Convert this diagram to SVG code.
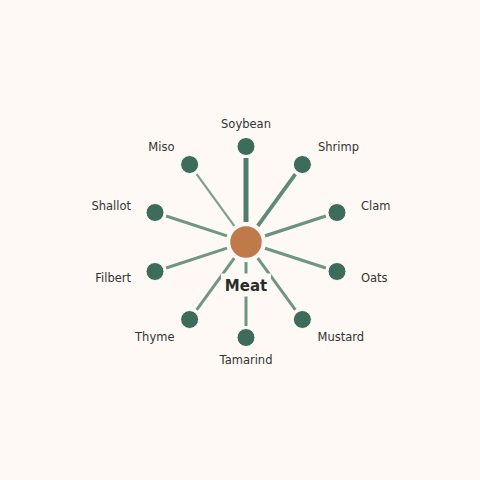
<svg xmlns="http://www.w3.org/2000/svg" width="480" height="480" viewBox="0 0 480 480">
<style>
.bg{fill:#fef9f5}
.sp{stroke:#6f9685;stroke-linecap:butt;fill:none}
.leaf{fill:#3d6b5c;stroke:#fef9f5;stroke-width:1}
.lbl{font-family:"DejaVu Sans",sans-serif;font-size:11.5px;fill:#333333}
.hub{fill:#c07a4a;stroke:#fef9f5;stroke-width:1.5}
.hubl{font-family:"DejaVu Sans",sans-serif;font-size:15px;font-weight:bold;fill:#2b2b2b}
</style>
<rect class="bg" x="0" y="0" width="480" height="480"/>
<g id="connectors">
<line class="sp" x1="246" y1="222" x2="246" y2="158" stroke="#4f7c6c" style="stroke:#4f7c6c" stroke-width="5"/>
<line class="sp" x1="257.76" y1="225.82" x2="295.37" y2="174.04" style="stroke:#5f8a7a;stroke-width:3.8"/>
<line class="sp" x1="234.24" y1="225.82" x2="196.63" y2="174.04" style="stroke:#7c9f91;stroke-width:2.2"/>
<line class="sp" x1="265.02" y1="235.82" x2="325.89" y2="216.04" style="stroke:#6a9282;stroke-width:3.3"/>
<line class="sp" x1="226.98" y1="235.82" x2="166.11" y2="216.04" style="stroke-width:3"/>
<line class="sp" x1="265.02" y1="248.18" x2="325.89" y2="267.96" style="stroke-width:3.2"/>
<line class="sp" x1="226.98" y1="248.18" x2="166.11" y2="267.96" style="stroke-width:3"/>
<line class="sp" x1="257.76" y1="258.18" x2="295.37" y2="309.96" style="stroke-width:3"/>
<line class="sp" x1="234.24" y1="258.18" x2="196.63" y2="309.96" style="stroke-width:3"/>
<line class="sp" x1="246" y1="262" x2="246" y2="326" style="stroke-width:3"/>
</g>
<g id="node-soybean"><circle class="leaf" cx="246" cy="146.5" r="9"/><text class="lbl" x="246" y="128" text-anchor="middle">Soybean</text></g>
<g id="node-shrimp"><circle class="leaf" cx="302.4" cy="164.5" r="9"/><text class="lbl" x="318" y="151">Shrimp</text></g>
<g id="node-miso"><circle class="leaf" cx="189.6" cy="164.5" r="9"/><text class="lbl" x="174.5" y="151" text-anchor="end">Miso</text></g>
<g id="node-clam"><circle class="leaf" cx="337" cy="212.5" r="9"/><text class="lbl" x="361" y="210">Clam</text></g>
<g id="node-shallot"><circle class="leaf" cx="155" cy="212.5" r="9"/><text class="lbl" x="131" y="210" text-anchor="end">Shallot</text></g>
<g id="node-oats"><circle class="leaf" cx="337" cy="271.5" r="9"/><text class="lbl" x="361" y="282">Oats</text></g>
<g id="node-filbert"><circle class="leaf" cx="155" cy="271.5" r="9"/><text class="lbl" x="131" y="282" text-anchor="end">Filbert</text></g>
<g id="node-mustard"><circle class="leaf" cx="302.4" cy="319.5" r="9"/><text class="lbl" x="317.5" y="341">Mustard</text></g>
<g id="node-thyme"><circle class="leaf" cx="189.6" cy="319.5" r="9"/><text class="lbl" x="174.5" y="341" text-anchor="end">Thyme</text></g>
<g id="node-tamarind"><circle class="leaf" cx="246" cy="337.5" r="9"/><text class="lbl" x="246" y="364" text-anchor="middle">Tamarind</text></g>
<g id="node-meat">
<circle class="hub" cx="246" cy="242" r="16.5"/>
<rect class="bg" x="221" y="273.5" width="50" height="23"/>
<text class="hubl" x="246" y="290.5" text-anchor="middle">Meat</text>
</g>
</svg>
